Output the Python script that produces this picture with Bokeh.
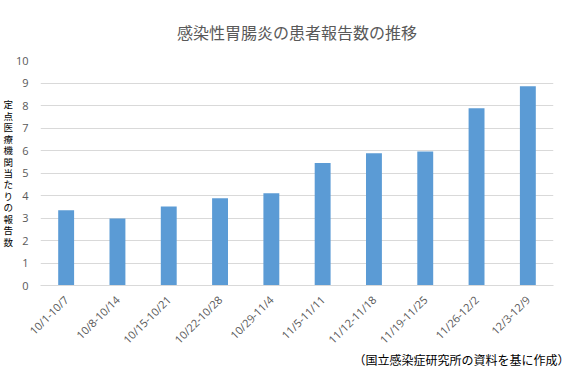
import math
from bokeh.plotting import figure
from bokeh.models import Title, Range1d, FactorRange, ColumnDataSource, FixedTicker
from bokeh.embed import file_html
from bokeh.resources import INLINE

weeks = ["10/1-10/7", "10/8-10/14", "10/15-10/21", "10/22-10/28", "10/29-11/4",
         "11/5-11/11", "11/12-11/18", "11/19-11/25", "11/26-12/2", "12/3-12/9"]
reports = [3.34, 2.98, 3.51, 3.88, 4.10, 5.44, 5.88, 5.96, 7.88, 8.86]
y_ticks = [0, 1, 2, 3, 4, 5, 6, 7, 8, 9, 10]

title_text = "感染性胃腸炎の患者報告数の推移"
y_label_text = "定点医療機関当たりの報告数"
note_text = "（国立感染症研究所の資料を基に作成）"

W, H = 570, 370
gray = "#595959"
jp = "Noto Sans CJK JP"

p = figure(width=W, height=H, output_backend="svg", toolbar_location=None,
           x_range=FactorRange(*weeks, range_padding=0), y_range=Range1d(0, 10))
p.min_border_left = 39
p.min_border_right = 17
p.min_border_top = 60
p.min_border_bottom = 85
p.outline_line_color = None
p.background_fill_color = "white"
p.border_fill_color = "white"

p.title.text = title_text
p.title.align = "center"
p.title.text_font_size = "16px"
p.title.text_font_style = "normal"
p.title.text_color = gray
p.title.text_font = jp
p.title.offset = 8
p.title.standoff = 34

src = ColumnDataSource(dict(x=weeks, top=reports))
p.vbar(x="x", top="top", width=0.31, source=src, color="#5b9bd5", line_color=None)

p.yaxis.ticker = FixedTicker(ticks=y_ticks)
p.yaxis.axis_line_color = None
p.yaxis.major_tick_line_color = None
p.yaxis.minor_tick_line_color = None
p.yaxis.major_label_text_font_size = "11px"
p.yaxis.major_label_text_color = gray
p.yaxis.major_label_text_font = "Open Sans"
p.yaxis.major_label_standoff = 6
p.yaxis.axis_label = "\n".join(y_label_text)
p.yaxis.axis_label_orientation = "horizontal"
p.yaxis.axis_label_text_font = jp
p.yaxis.axis_label_text_font_size = "9.5px"
p.yaxis.axis_label_text_font_style = "normal"
p.yaxis.axis_label_text_color = "black"
p.yaxis.axis_label_text_line_height = 0.82
p.yaxis.axis_label_standoff = 0

p.xaxis.axis_line_color = "#d9d9d9"
p.xaxis.major_tick_line_color = None
p.xaxis.minor_tick_line_color = None
p.xaxis.major_label_orientation = math.pi / 4
p.xaxis.major_label_text_font_size = "11px"
p.xaxis.major_label_text_color = gray
p.xaxis.major_label_text_font = "Open Sans"
p.xaxis.major_label_standoff = 6

p.xgrid.grid_line_color = None
p.ygrid.grid_line_color = "#d9d9d9"
p.ygrid.grid_line_width = 1

note = Title(text=note_text, align="right", text_font_size="12px",
             text_font_style="normal", text_color="black", text_font=jp,
             standoff=0, offset=-16)
try:
    note.standoff = -11
except Exception:
    note.standoff = 0
p.add_layout(note, "below")

open("out.html", "w").write(file_html(p, INLINE))
